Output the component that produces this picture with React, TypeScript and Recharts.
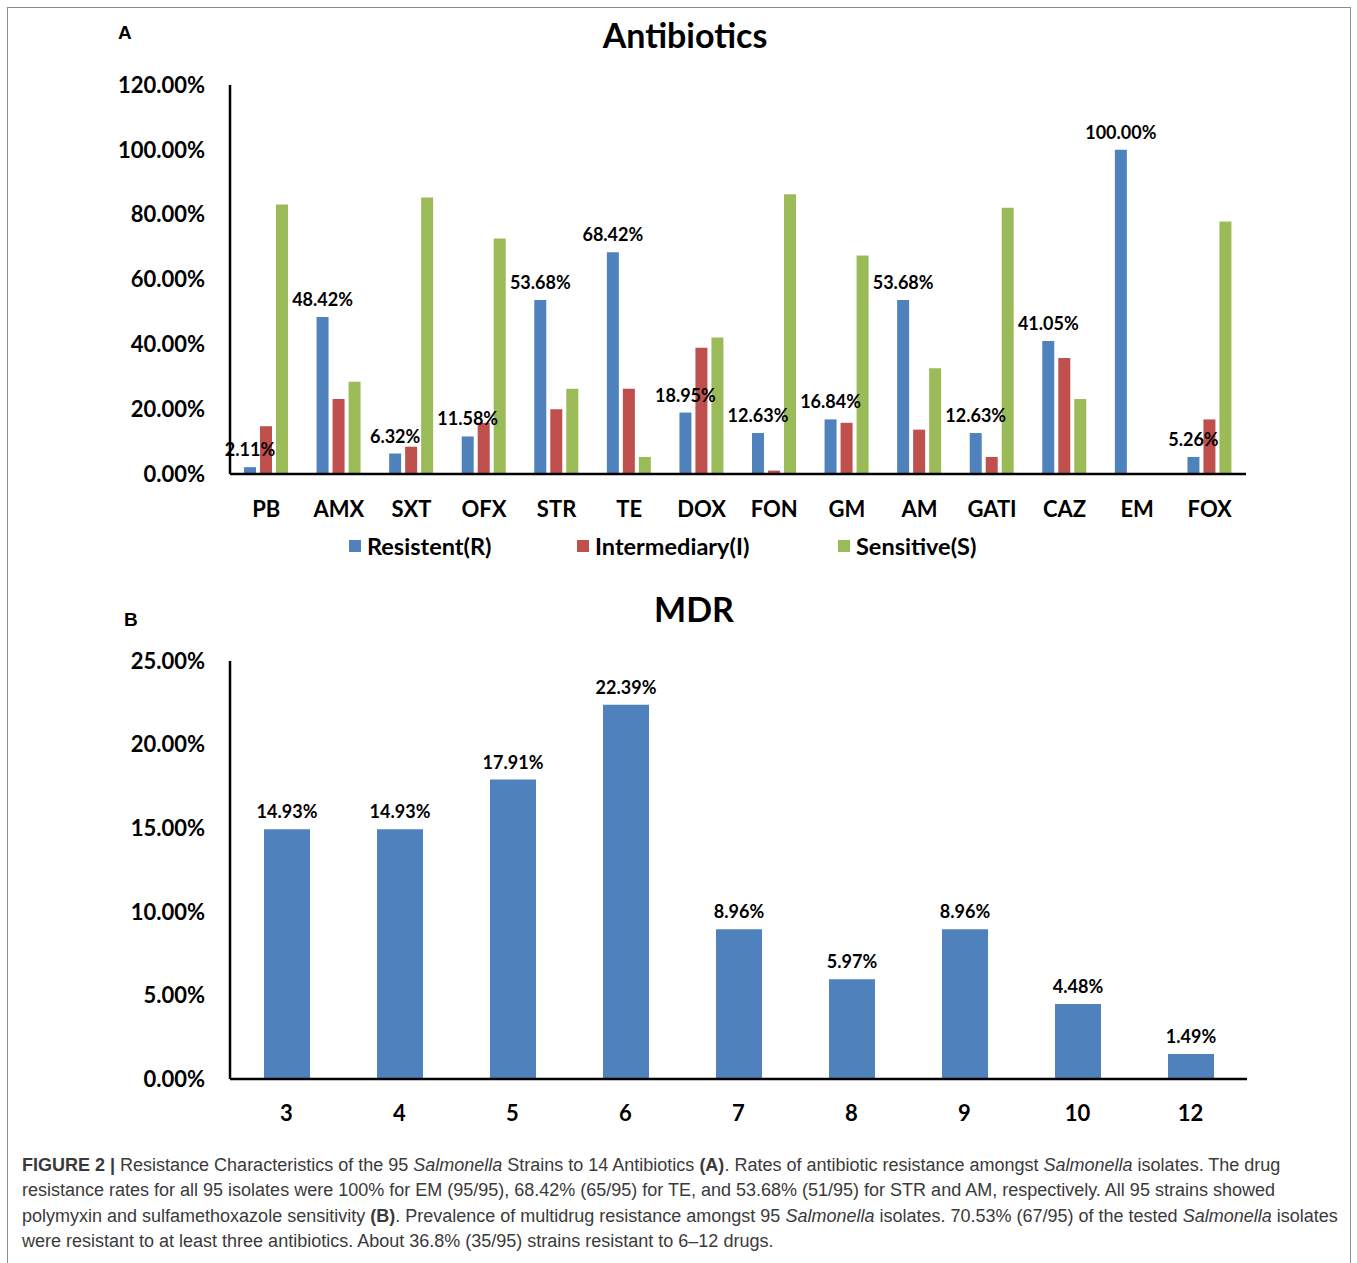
import React from "react";
import { BarChart, Bar, XAxis, YAxis, Legend, LabelList } from "recharts";

// Panel A: rates per antibiotic (out of 95 isolates)
const antibiotics = ["PB", "AMX", "SXT", "OFX", "STR", "TE", "DOX", "FON", "GM", "AM", "GATI", "CAZ", "EM", "FOX"];
const resistant = [2.11, 48.42, 6.32, 11.58, 53.68, 68.42, 18.95, 12.63, 16.84, 53.68, 12.63, 41.05, 100.0, 5.26];
const intermediary = [14.74, 23.16, 8.42, 15.79, 20.0, 26.32, 38.95, 1.05, 15.79, 13.68, 5.26, 35.79, 0, 16.84];
const sensitive = [83.16, 28.42, 85.26, 72.63, 26.32, 5.26, 42.11, 86.32, 67.37, 32.63, 82.11, 23.16, 0, 77.89];
const ticksA = [0, 20, 40, 60, 80, 100, 120];

// Panel B: share of isolates by number of drugs resisted
const drugCounts = ["3", "4", "5", "6", "7", "8", "9", "10", "12"];
const mdrShare = [14.93, 14.93, 17.91, 22.39, 8.96, 5.97, 8.96, 4.48, 1.49];
const ticksB = [0, 5, 10, 15, 20, 25];

const BLUE = "#4F81BD";
const RED = "#C0504D";
const GREEN = "#9BBB59";
const FONT = "Lato, 'Open Sans', sans-serif";

const dataA = antibiotics.map((name, i) => ({
	name,
	R: resistant[i],
	I: intermediary[i],
	S: sensitive[i],
}));
const dataB = drugCounts.map((name, i) => ({ name, v: mdrShare[i] }));

const pct = (v: number) => `${Number(v).toFixed(2)}%`;

const legendItems = [
	{ label: "Resistent(R)", color: BLUE, width: 228 },
	{ label: "Intermediary(I)", color: RED, width: 261 },
	{ label: "Sensitive(S)", color: GREEN, width: 200 },
];

const LegendRow = () => (
	<div style={{ display: "flex", fontFamily: FONT, fontWeight: 700, fontSize: 23.5, color: "#000" }}>
		{legendItems.map((it) => (
			<div key={it.label} style={{ width: it.width, display: "flex", alignItems: "center" }}>
				<span style={{ width: 12, height: 12, background: it.color, marginRight: 6, display: "inline-block" }} />
				<span>{it.label}</span>
			</div>
		))}
	</div>
);

const tickStyle = { fontFamily: FONT, fontWeight: 700, fontSize: 22, fill: "#000" };
const labelStyle = { fontFamily: FONT, fontWeight: 700, fontSize: 18, fill: "#000" };

const captionLines = [
	<>
		<b style={{ fontWeight: 700 }}>FIGURE 2 |</b> Resistance Characteristics of the 95 <i>Salmonella</i> Strains to 14 Antibiotics <b>(A)</b>. Rates of antibiotic resistance amongst <i>Salmonella</i> isolates. The drug
	</>,
	<>resistance rates for all 95 isolates were 100% for EM (95/95), 68.42% (65/95) for TE, and 53.68% (51/95) for STR and AM, respectively. All 95 strains showed</>,
	<>
		polymyxin and sulfamethoxazole sensitivity <b>(B)</b>. Prevalence of multidrug resistance amongst 95 <i>Salmonella</i> isolates. 70.53% (67/95) of the tested <i>Salmonella</i> isolates
	</>,
	<>were resistant to at least three antibiotics. About 36.8% (35/95) strains resistant to 6–12 drugs.</>,
];

export default function App() {
	return (
		<div style={{ position: "absolute", left: 0, top: 0, width: 1357, height: 1263, overflow: "hidden", background: "#fff" }}>
			<div style={{ position: "absolute", left: 7, top: 7, width: 1342, height: 1300, border: "1px solid #8c8c8c" }} />

			<div style={{ position: "absolute", left: 118, top: 22, fontFamily: "'Liberation Sans', Arial", fontWeight: 700, fontSize: 19 }}>A</div>
			<div style={{ position: "absolute", left: 485, width: 400, top: 14, textAlign: "center", fontFamily: FONT, fontWeight: 700, fontSize: 34 }}>Antibiotics</div>

			<div style={{ position: "absolute", left: 0, top: 0 }}>
				<BarChart width={1357} height={600} data={dataA} margin={{ top: 85, right: 111, left: 0, bottom: 86 }} barSize={12} barGap={4}>
					<XAxis dataKey="name" axisLine={{ stroke: "#000", strokeWidth: 2.5 }} tickLine={false} tick={tickStyle} tickMargin={21} height={40} interval={0} />
					<YAxis domain={[0, 120]} ticks={ticksA} tickFormatter={pct} axisLine={{ stroke: "#000", strokeWidth: 2.5 }} tickLine={false} tick={tickStyle} tickMargin={19} width={230} />
					<Legend verticalAlign="middle" align="center" wrapperStyle={{ top: 532, left: 349, width: 700 }} content={() => <LegendRow />} />
					<Bar dataKey="R" fill={BLUE} isAnimationActive={false}>
						<LabelList dataKey="R" position="top" offset={11} formatter={pct} style={labelStyle} />
					</Bar>
					<Bar dataKey="I" fill={RED} isAnimationActive={false} />
					<Bar dataKey="S" fill={GREEN} isAnimationActive={false} />
				</BarChart>
			</div>

			<div style={{ position: "absolute", left: 124, top: 609, fontFamily: "'Liberation Sans', Arial", fontWeight: 700, fontSize: 19 }}>B</div>
			<div style={{ position: "absolute", left: 494, width: 400, top: 588, textAlign: "center", fontFamily: FONT, fontWeight: 700, fontSize: 34 }}>MDR</div>

			<div style={{ position: "absolute", left: 0, top: 590 }}>
				<BarChart width={1357} height={540} data={dataB} margin={{ top: 71, right: 110, left: 0, bottom: 11 }} barSize={46}>
					<XAxis dataKey="name" axisLine={{ stroke: "#000", strokeWidth: 2.5 }} tickLine={false} tick={tickStyle} tickMargin={20} height={40} interval={0} />
					<YAxis domain={[0, 25]} ticks={ticksB} tickFormatter={pct} axisLine={{ stroke: "#000", strokeWidth: 2.5 }} tickLine={false} tick={tickStyle} tickMargin={19} width={230} />
					<Bar dataKey="v" fill={BLUE} isAnimationActive={false}>
						<LabelList dataKey="v" position="top" offset={11} formatter={pct} style={labelStyle} />
					</Bar>
				</BarChart>
			</div>

			<div style={{ position: "absolute", left: 22, top: 1153, fontFamily: "'Liberation Sans', Arial", fontSize: 18, lineHeight: "25.3px", color: "#3a3a3a", whiteSpace: "nowrap" }}>
				{captionLines.map((ln, i) => (
					<div key={i}>{ln}</div>
				))}
			</div>
		</div>
	);
}
